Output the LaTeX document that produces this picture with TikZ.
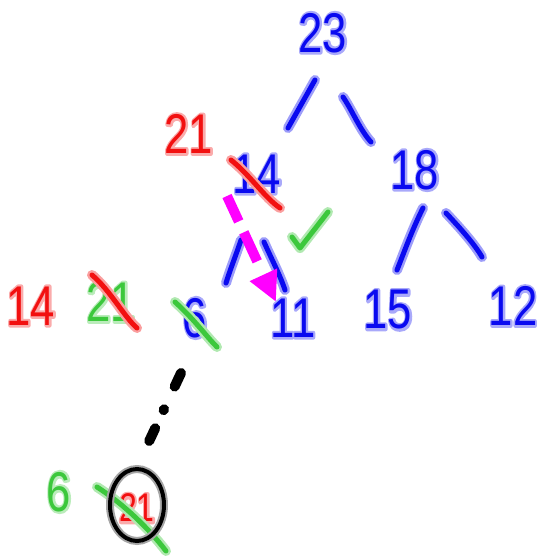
\documentclass[tikz,border=0pt]{standalone}
\usepackage{fontspec}
\setmainfont{Liberation Sans}
\usetikzlibrary{arrows.meta}
\definecolor{inkblue}{HTML}{0A0AF0}
\definecolor{inkred}{HTML}{F21010}
\definecolor{inkgreen}{HTML}{3CC83C}
\definecolor{inkpink}{HTML}{FF00FF}
\tikzset{
  num/.style={inner sep=0pt, font=\fontsize{56}{56}\selectfont, xscale=0.78},
  small/.style={inner sep=0pt, font=\fontsize{40}{40}\selectfont, xscale=0.8},
  stroke/.style={line width=5pt, line cap=round, line join=round, draw=#1,
    preaction={draw=#1!40, line width=10pt, line cap=round, line join=round}},
}
% glyphs filled and outlined with a wide pen, for the soft halo under a number
\newcommand\haloglyphs[1]{%
  \special{pdf:literal direct 2 Tr 4.6 w 1 J 1 j}#1\special{pdf:literal direct 0 Tr}}
% a number written with a soft halo around its strokes
\newcommand\inknum[5][num]{%
  \node[#1, text=#3!35] at (#4) {\haloglyphs{#5}};
  \node[#1, text=#3] (#2) at (#4) {#5};}
\begin{document}
\begin{tikzpicture}[x=1pt, y=-1pt]
  \useasboundingbox (0,0) rectangle (540,559);

  % tree numbers
  \inknum{n23}{inkblue}{323,33}{23}
  \inknum{n14}{inkblue}{257,174}{14}
  \inknum{n18}{inkblue}{415,170}{18}
  \inknum{n11}{inkblue}{293,318}{11}
  \inknum{n15}{inkblue}{388,310}{15}
  \inknum{n12}{inkblue}{513,306}{12}
  \inknum{n6}{inkblue}{195,318}{6}

  % side notes
  \inknum{r21}{inkred}{189,134}{21}
  \inknum{r14}{inkred}{31,306}{14}
  \inknum{g21}{inkgreen}{111,302}{21}
  \inknum{g6}{inkgreen}{59,492}{6}
  \inknum[small]{r21b}{inkred}{137,508}{21}

  % tree edges
  \coordinate (a1) at (315,80);  \coordinate (a2) at (288,128);
  \coordinate (b1) at (343,97);  \coordinate (b2) at (371,142);
  \coordinate (c1) at (423,208); \coordinate (c2) at (397,270);
  \coordinate (d1) at (446,213); \coordinate (d2) at (482,257);
  \coordinate (e1) at (241,240); \coordinate (e2) at (226,283);
  \coordinate (f1) at (264,242); \coordinate (f2) at (285,290);
  \draw[stroke=inkblue] (a1) -- (a2);
  \draw[stroke=inkblue] (b1) .. controls (352,110) and (360,130) .. (b2);
  \draw[stroke=inkblue] (c1) .. controls (412,230) and (405,250) .. (c2);
  \draw[stroke=inkblue] (d1) .. controls (462,230) and (475,245) .. (d2);
  \draw[stroke=inkblue] (e1) .. controls (236,255) and (230,270) .. (e2);
  \draw[stroke=inkblue] (f1) .. controls (272,260) and (280,275) .. (f2);

  % strike-outs
  \coordinate (s1) at (231,160); \coordinate (s2) at (280,208);
  \coordinate (s3) at (92,275);  \coordinate (s4) at (137,328);
  \coordinate (s5) at (175,302); \coordinate (s6) at (217,347);
  \coordinate (s7) at (97,487);  \coordinate (s8) at (166,551);
  \draw[stroke=inkred] (s1) .. controls (250,175) and (265,198) .. (s2);
  \draw[stroke=inkred] (s3) .. controls (110,290) and (125,318) .. (s4);
  \draw[stroke=inkgreen] (s5) .. controls (195,320) and (205,335) .. (s6);
  \draw[stroke=inkgreen] (s7) .. controls (125,505) and (150,530) .. (s8);

  % check mark
  \coordinate (k1) at (292,237); \coordinate (k2) at (300,248); \coordinate (k3) at (328,212);
  \draw[stroke=inkgreen] (k1) -- (k2) -- (k3);

  % ring around the moved value
  \draw[line width=4pt, draw=black, preaction={draw=black!35, line width=8pt}]
    (137,505) ellipse [x radius=27, y radius=36];

  % dash-dot link to the moved value
  \coordinate (l1) at (181,373); \coordinate (l2) at (145,450);
  \draw[line width=10pt, line cap=round, dash pattern={on 15pt off 25pt on 1pt off 20pt on 14pt}] (l1) -- (l2);

  % swap arrow
  \coordinate (m1) at (227,196); \coordinate (m2) at (276,302);
  \draw[inkpink, line width=10pt, dash pattern={on 28pt off 12pt on 32pt off 40pt},
    -{Triangle[length=30pt, width=28pt]}] (m1) -- (m2);
\end{tikzpicture}
\end{document}
